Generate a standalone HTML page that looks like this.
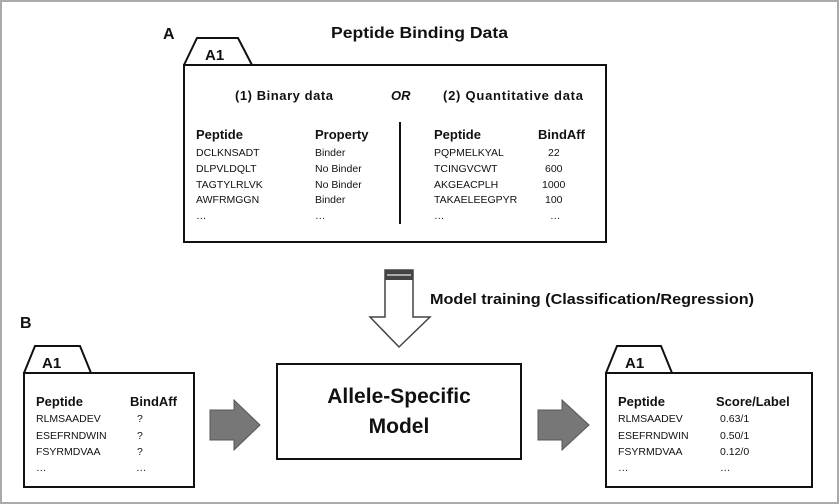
<!DOCTYPE html>
<html><head><meta charset="utf-8"><style>
html,body{margin:0;padding:0;background:#fff}
svg{display:block}
text{font-family:"Liberation Sans",sans-serif;fill:#111}
.b{font-weight:bold}
.h{font-size:13px;font-weight:bold}
.r{font-size:10.5px}
</style></head><body>
<svg width="839" height="504" viewBox="0 0 839 504" xmlns="http://www.w3.org/2000/svg">
<rect x="1" y="1" width="837" height="502" fill="#fff" stroke="#aaa" stroke-width="2"/>
<text x="163" y="39" class="b" font-size="16">A</text>
<text x="331" y="38" class="b" font-size="16" textLength="177" lengthAdjust="spacingAndGlyphs">Peptide Binding Data</text>
<!-- top box -->
<path d="M184 65 L197 38 L238 38 L252 65" fill="#fff" stroke="#111" stroke-width="2"/>
<text x="205" y="60" class="b" font-size="15">A1</text>
<rect x="184" y="65" width="422" height="177" fill="#fff" stroke="#111" stroke-width="2"/>
<text x="235" y="100" class="h" font-size="14" textLength="98">(1) Binary data</text>
<text x="391" y="100" class="h" font-style="italic">OR</text>
<text x="443" y="100" class="h" font-size="14" textLength="140">(2) Quantitative data</text>
<line x1="400" y1="122" x2="400" y2="224" stroke="#111" stroke-width="2"/>
<text x="196" y="139" class="h">Peptide</text>
<text x="315" y="139" class="h">Property</text>
<text x="434" y="139" class="h">Peptide</text>
<text x="538" y="139" class="h">BindAff</text>
<g>
<text x="196" y="156" class="r">DCLKNSADT</text><text x="315" y="156" class="r">Binder</text>
<text x="196" y="172" class="r">DLPVLDQLT</text><text x="315" y="172" class="r">No Binder</text>
<text x="196" y="188" class="r">TAGTYLRLVK</text><text x="315" y="188" class="r">No Binder</text>
<text x="196" y="203" class="r">AWFRMGGN</text><text x="315" y="203" class="r">Binder</text>
<text x="196" y="219" class="r">…</text><text x="315" y="219" class="r">…</text>
<text x="434" y="156" class="r">PQPMELKYAL</text><text x="548" y="156" class="r">22</text>
<text x="434" y="172" class="r">TCINGVCWT</text><text x="545" y="172" class="r">600</text>
<text x="434" y="188" class="r">AKGEACPLH</text><text x="542" y="188" class="r">1000</text>
<text x="434" y="203" class="r">TAKAELEEGPYR</text><text x="545" y="203" class="r">100</text>
<text x="434" y="219" class="r">…</text><text x="550" y="219" class="r">…</text>
</g>
<!-- down arrow -->
<path d="M385 270 L413 270 L413 317 L430 317 L399 347 L370 317 L385 317 Z" fill="#fff" stroke="#444" stroke-width="1.5"/>
<rect x="385" y="270" width="28" height="10" fill="#444"/>
<line x1="387" y1="275" x2="411" y2="275" stroke="#ccc" stroke-width="1.5"/>
<text x="430" y="304" class="b" font-size="15" textLength="324" lengthAdjust="spacingAndGlyphs">Model training  (Classification/Regression)</text>
<text x="20" y="328" class="b" font-size="16">B</text>
<!-- left box -->
<path d="M24 373 L35 346 L80 346 L91 373" fill="#fff" stroke="#111" stroke-width="2"/>
<text x="42" y="368" class="b" font-size="15">A1</text>
<rect x="24" y="373" width="170" height="114" fill="#fff" stroke="#111" stroke-width="2"/>
<text x="36" y="406" class="h">Peptide</text><text x="130" y="406" class="h">BindAff</text>
<text x="36" y="422" class="r">RLMSAADEV</text><text x="137" y="422" class="r">?</text>
<text x="36" y="439" class="r">ESEFRNDWIN</text><text x="137" y="439" class="r">?</text>
<text x="36" y="455" class="r">FSYRMDVAA</text><text x="137" y="455" class="r">?</text>
<text x="36" y="471" class="r">…</text><text x="136" y="471" class="r">…</text>
<!-- gray arrows -->
<path d="M210 410 L234 410 L234 400 L260 425 L234 450 L234 440 L210 440 Z" fill="#777" stroke="#555"/>
<path d="M538 410 L562 410 L562 400 L589 425 L562 450 L562 440 L538 440 Z" fill="#777" stroke="#555"/>
<!-- middle box -->
<rect x="277" y="364" width="244" height="95" fill="#fff" stroke="#111" stroke-width="2"/>
<text x="399" y="403" class="b" font-size="21" text-anchor="middle">Allele-Specific</text>
<text x="399" y="433" class="b" font-size="21" text-anchor="middle">Model</text>
<!-- right box -->
<path d="M606 373 L617 346 L661 346 L672 373" fill="#fff" stroke="#111" stroke-width="2"/>
<text x="625" y="368" class="b" font-size="15">A1</text>
<rect x="606" y="373" width="206" height="114" fill="#fff" stroke="#111" stroke-width="2"/>
<text x="618" y="406" class="h">Peptide</text><text x="716" y="406" class="h">Score/Label</text>
<text x="618" y="422" class="r">RLMSAADEV</text><text x="720" y="422" class="r">0.63/1</text>
<text x="618" y="439" class="r">ESEFRNDWIN</text><text x="720" y="439" class="r">0.50/1</text>
<text x="618" y="455" class="r">FSYRMDVAA</text><text x="720" y="455" class="r">0.12/0</text>
<text x="618" y="471" class="r">…</text><text x="720" y="471" class="r">…</text>
</svg>
</body></html>
